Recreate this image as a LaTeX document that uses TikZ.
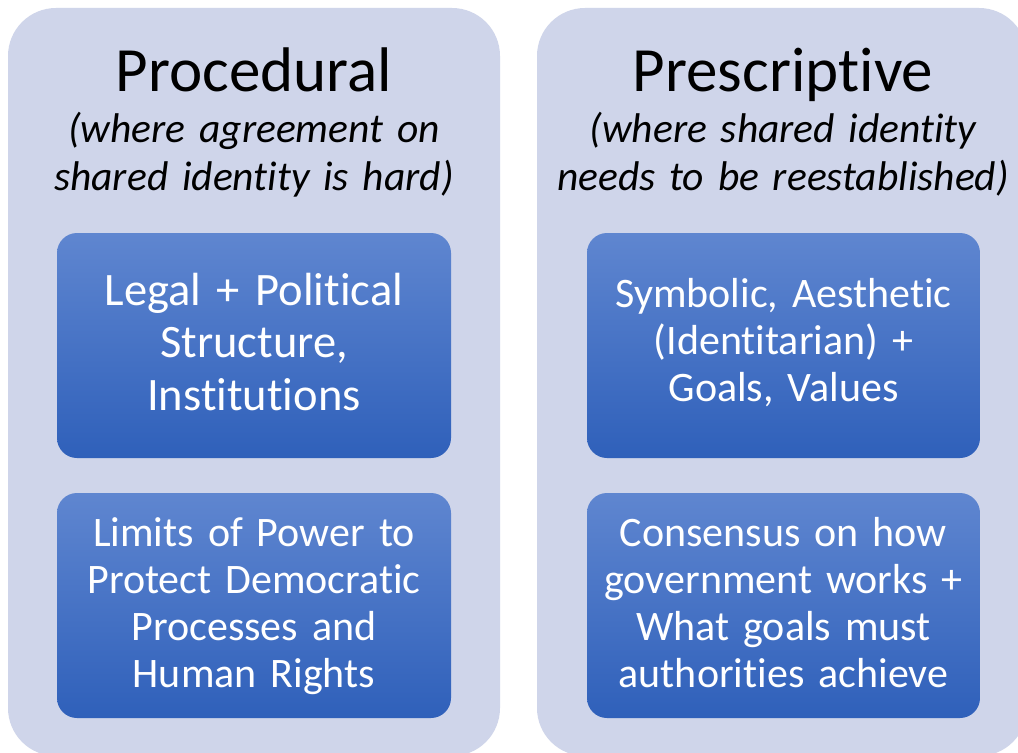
\documentclass[tikz,border=0pt]{standalone}
\usepackage{fontspec}
\setmainfont{Carlito}[Ligatures=NoCommon, RawFeature=-calt]
\newcommand{\nolg}{\kern0pt }
\definecolor{panelfill}{HTML}{CFD5EA}
\definecolor{boxtop}{HTML}{5F86D0}
\definecolor{boxbot}{HTML}{2F60BA}
\tikzset{
  panel/.style={fill=panelfill, draw=none, rounded corners=48bp},
  bluebox/.style={top color=boxtop, bottom color=boxbot, draw=none, rounded corners=20bp},
  titletext/.style={anchor=base, inner sep=0pt, font=\fontsize{63bp}{70bp}\selectfont},
  subtext/.style={anchor=base, inner sep=0pt, text width=480bp, align=center, font=\fontsize{41.5bp}{48bp}\selectfont\itshape},
  bigtext/.style={anchor=base, inner sep=0pt, text width=390bp, align=center, text=white, font=\fontsize{46.5bp}{52.5bp}\selectfont},
  boxtext/.style={anchor=base, inner sep=0pt, text width=390bp, align=center, text=white, font=\fontsize{42bp}{47bp}\selectfont}
}
\begin{document}
\begin{tikzpicture}[x=1bp,y=-1bp]
\useasboundingbox (0,0) rectangle (1018,753);
\clip (0,0) rectangle (1018,753);
\fill[white] (0,0) rectangle (1018,753);
% panels
\path[panel] (8,8) rectangle (500,756);
\path[panel] (537,8) rectangle (1027,756);
% boxes
\path[bluebox] (57,233) rectangle (451,458);
\path[bluebox] (57,493) rectangle (451,718);
\path[bluebox] (587,233) rectangle (980,458);
\path[bluebox] (587,493) rectangle (980,718);
% titles
\node[titletext] (t1) at (254,92) {Procedural};
\node[titletext] (t2) at (783,92) {Prescript\nolg ive};
\node[subtext] (s1) at (254,142) {(where agreement on\\shared ident\nolg ity is hard)};
\node[subtext] (s2) at (783,142) {(where shared ident\nolg ity\\needs to be reestablished)};
% box texts
\node[bigtext] (b1) at (254,305) {Legal + Polit\nolg ical\\Structure,\\Inst\nolg itut\nolg ions};
\node[boxtext] (b2) at (254,546) {Limits of Power to\\Protect Democrat\nolg ic\\Processes and\\Human Rights};
\node[boxtext] (b3) at (783.5,307) {Symbolic, Aesthet\nolg ic\\(Ident\nolg itarian) +\\Goals, Values};
\node[boxtext] (b4) at (783.5,546) {Consensus on how\\government works +\\What goals must\\authorit\nolg ies achieve};
\end{tikzpicture}
\end{document}
